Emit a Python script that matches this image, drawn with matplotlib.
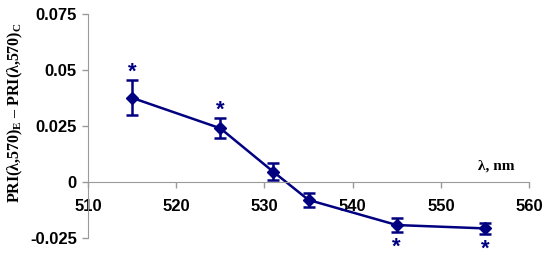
import matplotlib
matplotlib.use("Agg")
import matplotlib.pyplot as plt

# data
wavelength = [515, 525, 531, 535, 545, 555]
pri_diff = [0.0376, 0.0240, 0.0046, -0.0080, -0.0192, -0.0207]
pri_err = [0.0078, 0.0044, 0.0037, 0.0033, 0.0030, 0.0023]
signif = [True, True, False, False, True, True]

x_ticks = [510, 520, 530, 540, 550, 560]
y_ticks = [-0.025, 0, 0.025, 0.05, 0.075]
y_tick_labels = ["-0.025", "0", "0.025", "0.05", "0.075"]

NAVY = "#000080"
GREY = "#9a9a9a"

plt.rcParams["mathtext.fontset"] = "custom"
plt.rcParams["mathtext.rm"] = "Liberation Serif:bold"
plt.rcParams["mathtext.it"] = "Liberation Serif:bold"
plt.rcParams["mathtext.bf"] = "Liberation Serif:bold"

fig = plt.figure(figsize=(5.5, 2.61), dpi=100)
ax = fig.add_axes([0.16, 0.088, 0.802, 0.858])

ax.errorbar(wavelength, pri_diff, yerr=pri_err, color=NAVY, lw=1.8,
            marker="D", ms=6, capsize=4, capthick=1.8, elinewidth=1.8)

# significance asterisks: above for positive, below for negative
for x, y, e, s in zip(wavelength, pri_diff, pri_err, signif):
    if not s:
        continue
    if y > 0:
        ax.annotate("*", (x, y + e), xytext=(0, -1.5), textcoords="offset points",
                    color=NAVY, fontsize=16, fontweight="bold", ha="center",
                    va="bottom", family="Liberation Sans")
    else:
        ax.annotate("*", (x, y - e), xytext=(0, -19), textcoords="offset points",
                    color=NAVY, fontsize=16, fontweight="bold", ha="center",
                    va="bottom", family="Liberation Sans", annotation_clip=False)

ax.set_xlim(510, 560)
ax.set_ylim(-0.025, 0.075)
ax.set_xticks(x_ticks)
ax.set_yticks(y_ticks)
ax.set_yticklabels(y_tick_labels)

for side in ["top", "right"]:
    ax.spines[side].set_visible(False)
ax.spines["bottom"].set_position(("data", 0))
ax.spines["left"].set_color(GREY)
ax.spines["bottom"].set_color(GREY)

ax.tick_params(axis="both", colors=GREY, length=4, width=1, direction="out")
for lab in ax.get_xticklabels() + ax.get_yticklabels():
    lab.set_color("black")
    lab.set_fontweight("bold")
    lab.set_fontsize(12)
    lab.set_family("Liberation Sans")
ax.tick_params(axis="x", pad=8)
ax.tick_params(axis="y", pad=4)

ax.text(558.3, 0.0072, "λ, nm", fontsize=11, fontweight="bold",
        family="Liberation Serif", ha="right", va="center")

fig.text(0.028, 0.568, "PRI(λ,570)$_\\mathrm{E}$ – PRI(λ,570)$_\\mathrm{C}$",
         rotation=90, fontsize=11.5, fontweight="bold", family="Liberation Serif",
         ha="center", va="center")

fig.savefig("out.png", dpi=100)
